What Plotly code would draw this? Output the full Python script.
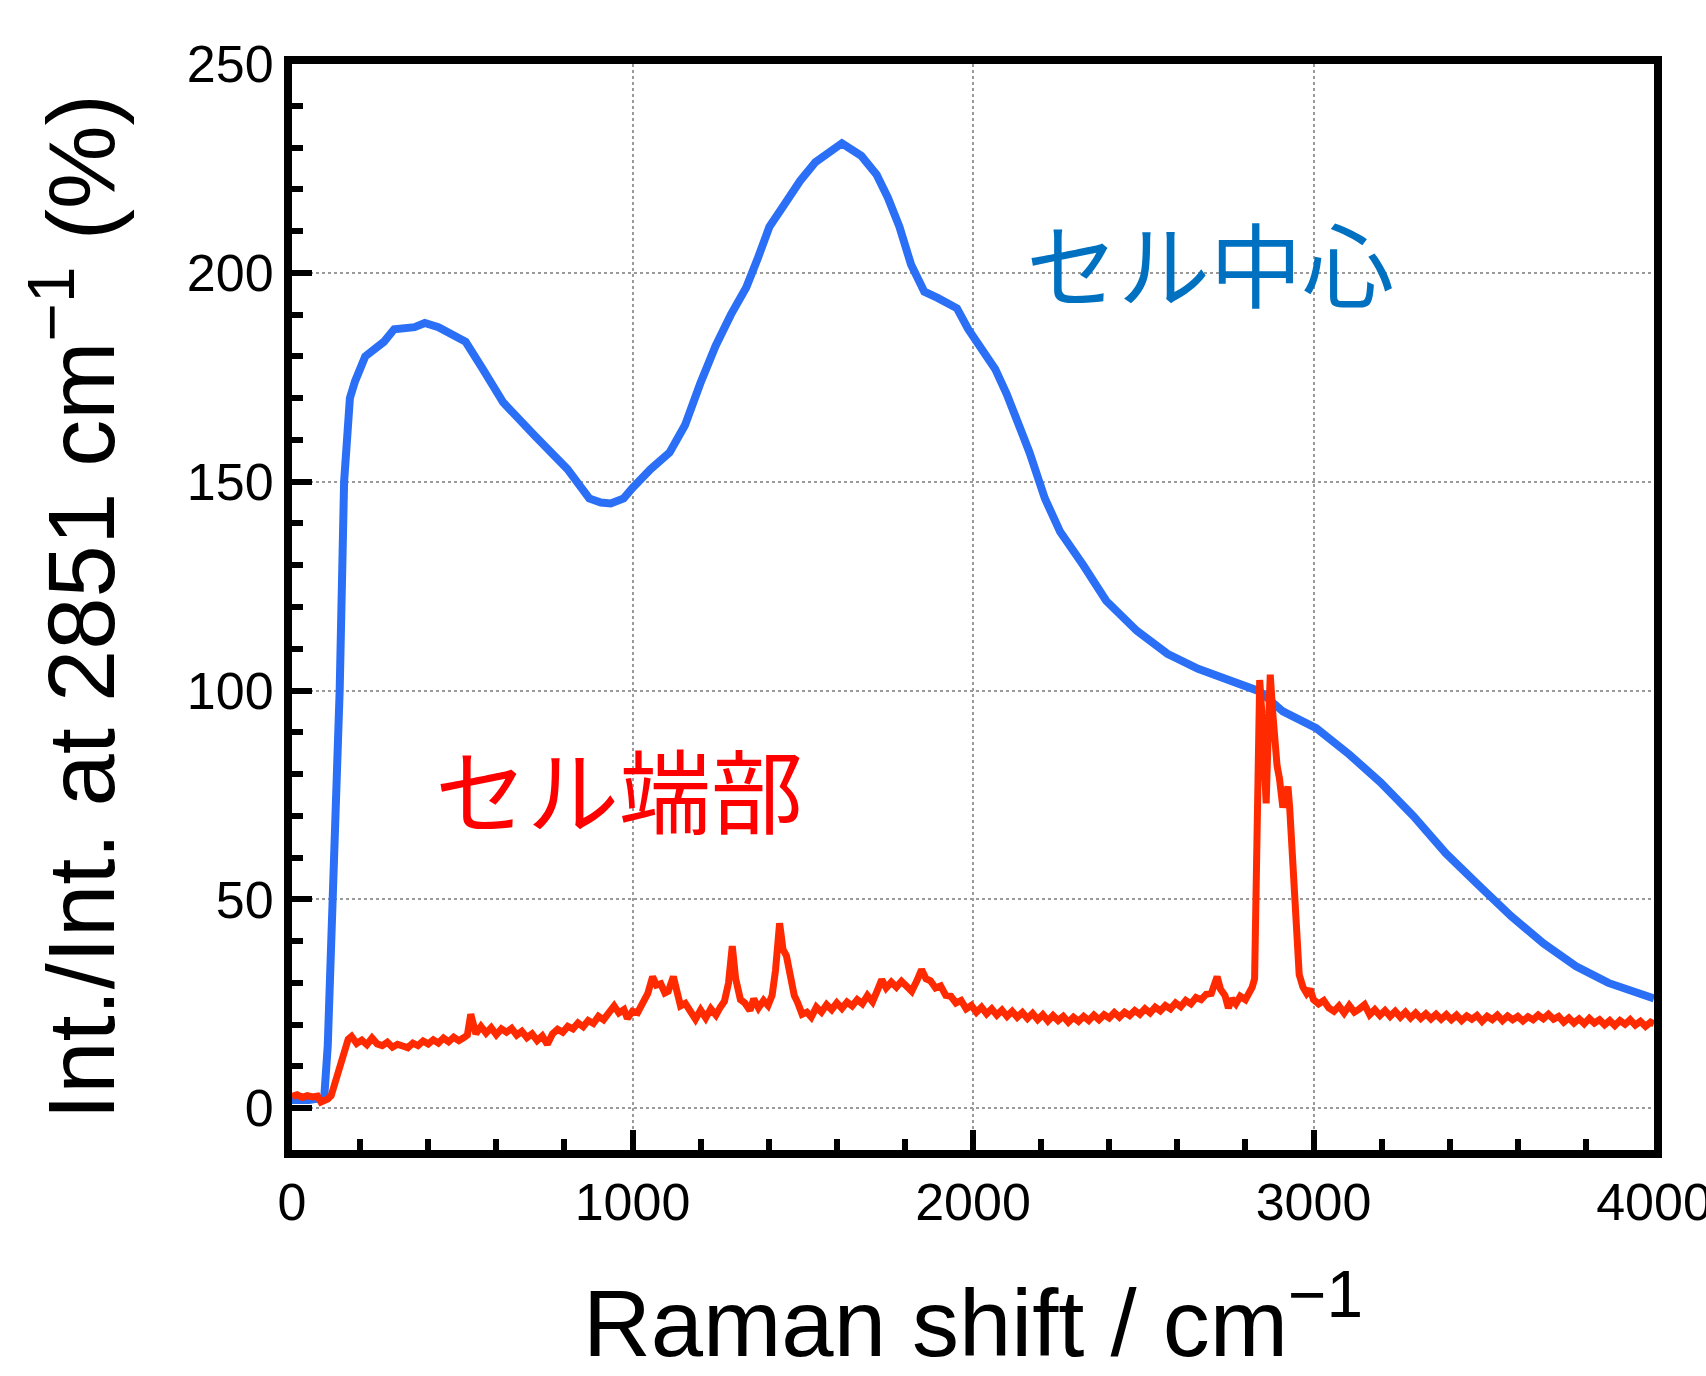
import plotly.graph_objects as go

# ---- data ----
center_x = [0, 50, 90, 95, 105, 120, 130, 140, 153, 160, 170, 185, 215, 270, 300, 360, 390, 430,
            510, 560, 620, 713, 809, 873, 907, 936, 974, 1000, 1053, 1109, 1154, 1199, 1244,
            1289, 1334, 1368, 1402, 1447, 1492, 1537, 1582, 1615, 1672, 1717, 1750, 1784, 1818,
            1857, 1896, 1953, 1986, 2031, 2065, 2099, 2133, 2166, 2211, 2256, 2324, 2391, 2481,
            2571, 2661, 2760, 2842, 2910, 3008, 3105, 3197, 3293, 3389, 3484, 3580, 3675, 3771,
            3866, 3978, 4000]
center_y = [2, 2, 2.5, 3, 15, 50, 75, 100, 150, 160, 170, 174, 180, 183.5, 186.5, 187, 188, 187,
            183.5, 177, 169, 161, 153, 146, 145, 144.8, 146, 148.5, 153, 157, 163.5, 173.5, 182.5,
            190, 196.5, 203.5, 211, 216.5, 222, 226.5, 229, 231, 228, 223.5, 218, 211, 202,
            195.5, 194, 191.5, 186.5, 181, 177, 171, 164.5, 157, 146, 138, 130, 121.5, 114.3,
            108.8, 105.2, 102.5, 99.8, 95, 91, 84.7, 78, 70, 61, 53.5, 46, 39.5, 34,
            30, 26.6, 26.3]

# (Raman shift, intensity) pairs for the cell-edge spectrum
edge_points = [
    (0, 2.8), (15, 3.2), (30, 2.6), (45, 3.0), (60, 2.7), (75, 2.9), (85, 1.5), (95, 1.8),
    (105, 2.2), (115, 3.0), (125, 5.5), (135, 8.0), (145, 10.5), (155, 13.0), (165, 16.5),
    (175, 17.2), (190, 15.5), (205, 16.3), (220, 15.2), (235, 16.8), (250, 15.4), (265, 15.0),
    (280, 15.8), (295, 14.6), (310, 15.3), (325, 14.9), (340, 14.5), (355, 15.6), (370, 15.0),
    (385, 16.1), (400, 15.4), (415, 16.4), (430, 15.6), (445, 16.8), (460, 15.9), (475, 17.0),
    (490, 16.2), (505, 16.9), (515, 17.5), (525, 22.5), (532, 19.5), (540, 17.8), (555, 19.6),
    (570, 18.0), (585, 19.3), (600, 17.6), (615, 19.0), (630, 18.2), (645, 19.1), (660, 17.5),
    (675, 18.4), (690, 16.9), (705, 17.8), (720, 16.2), (735, 17.3), (750, 15.3), (765, 17.8),
    (780, 18.9), (795, 18.2), (810, 19.6), (825, 19.0), (840, 20.4), (855, 19.5), (870, 21.0),
    (885, 20.3), (900, 22.0), (915, 21.2), (930, 23.0), (946, 24.5), (960, 22.8), (975, 23.6),
    (985, 21.5), (1000, 23.2), (1015, 22.9), (1030, 25.0), (1045, 27.5), (1059, 31.5),
    (1070, 29.5), (1083, 29.8), (1095, 27.6), (1105, 28.0), (1120, 31.5), (1132, 27.5),
    (1141, 24.5), (1155, 25.1), (1170, 22.8), (1185, 21.3), (1200, 23.5), (1215, 21.6),
    (1230, 23.8), (1245, 22.3), (1258, 24.2), (1270, 25.6), (1282, 30.0), (1293, 38.8),
    (1303, 31.0), (1317, 26.0), (1330, 25.2), (1345, 23.4), (1356, 26.2), (1370, 24.0),
    (1385, 25.8), (1398, 24.6), (1410, 27.0), (1420, 33.0), (1432, 44.3), (1442, 38.0),
    (1452, 36.5), (1465, 30.0), (1475, 27.0), (1485, 25.3), (1498, 22.5), (1512, 23.0),
    (1525, 21.8), (1540, 24.2), (1555, 23.0), (1570, 24.8), (1585, 23.6), (1600, 25.2),
    (1615, 23.9), (1630, 25.4), (1645, 24.5), (1660, 26.0), (1675, 25.0), (1690, 27.0),
    (1705, 25.5), (1718, 28.0), (1732, 30.8), (1745, 28.8), (1760, 30.2), (1775, 29.0),
    (1790, 30.4), (1805, 29.2), (1820, 28.0), (1835, 30.5), (1849, 33.2), (1862, 31.0),
    (1875, 30.5), (1890, 28.8), (1905, 29.3), (1920, 27.0), (1935, 26.8), (1950, 25.2),
    (1965, 25.8), (1980, 23.8), (1995, 24.6), (2010, 23.0), (2025, 24.2), (2040, 22.6),
    (2055, 23.8), (2070, 22.3), (2085, 23.5), (2100, 22.0), (2115, 23.2), (2130, 21.8),
    (2145, 22.9), (2160, 21.5), (2175, 22.7), (2190, 21.2), (2205, 22.4), (2220, 20.9),
    (2235, 22.2), (2250, 21.0), (2265, 22.0), (2280, 20.6), (2295, 21.8), (2310, 20.8),
    (2325, 22.0), (2340, 21.0), (2355, 22.3), (2370, 21.2), (2385, 22.4), (2400, 21.6),
    (2415, 22.9), (2430, 21.8), (2445, 23.0), (2460, 22.2), (2475, 23.4), (2490, 22.5),
    (2505, 23.8), (2520, 22.8), (2535, 24.2), (2550, 23.3), (2565, 24.6), (2580, 23.8),
    (2595, 25.2), (2610, 24.3), (2625, 25.8), (2640, 25.0), (2655, 26.5), (2670, 26.0),
    (2685, 27.3), (2700, 27.5), (2710, 29.5), (2717, 31.5), (2727, 28.5), (2740, 27.0),
    (2750, 24.0), (2760, 26.2), (2772, 25.0), (2785, 26.8), (2800, 26.0), (2812, 27.8),
    (2820, 29.0), (2827, 31.0), (2832, 50.0), (2837, 80.0), (2842, 102.5), (2848, 95.0),
    (2855, 80.0), (2861, 73.0), (2867, 90.0), (2873, 103.8), (2880, 95.0), (2886, 86.3),
    (2893, 82.0), (2900, 79.0), (2905, 76.0), (2910, 72.0), (2918, 75.0), (2925, 77.0),
    (2930, 72.0), (2935, 65.0), (2940, 54.5), (2945, 45.0), (2949, 38.6), (2958, 32.0),
    (2969, 29.0), (2980, 27.5), (2990, 28.5), (3000, 26.0), (3015, 25.0), (3030, 25.8),
    (3045, 24.0), (3060, 23.2), (3075, 24.5), (3090, 22.8), (3105, 24.6), (3120, 23.0),
    (3135, 23.8), (3150, 24.8), (3165, 22.4), (3180, 23.6), (3195, 22.2), (3210, 23.4),
    (3225, 22.0), (3240, 23.2), (3255, 21.8), (3270, 23.0), (3285, 21.6), (3300, 22.8),
    (3315, 21.5), (3330, 22.6), (3345, 21.4), (3360, 22.5), (3375, 21.3), (3390, 22.4),
    (3405, 21.2), (3420, 22.3), (3435, 21.0), (3450, 22.1), (3465, 21.3), (3480, 22.2),
    (3495, 20.8), (3510, 22.0), (3525, 21.2), (3540, 22.3), (3555, 21.0), (3570, 22.1),
    (3585, 21.2), (3600, 22.0), (3615, 20.9), (3630, 21.9), (3645, 21.2), (3660, 22.3),
    (3675, 21.4), (3690, 22.5), (3705, 21.3), (3720, 22.0), (3735, 20.6), (3750, 21.6),
    (3765, 20.4), (3780, 21.4), (3795, 20.2), (3810, 21.5), (3825, 20.4), (3840, 21.2),
    (3855, 20.0), (3870, 21.0), (3885, 19.8), (3900, 21.0), (3915, 20.1), (3930, 21.2),
    (3945, 19.9), (3960, 20.8), (3975, 19.6), (3990, 20.6), (4000, 20.2),
]
edge_x = [p[0] for p in edge_points]
edge_y = [p[1] for p in edge_points]

x_ticks = [0, 1000, 2000, 3000, 4000]
y_ticks = [0, 50, 100, 150, 200, 250]

x_title = "Raman shift / cm<sup>−1</sup>"
y_title = "Int./Int. at 2851 cm<sup>−1</sup> (%)"
label_center = "セル中心"
label_edge = "セル端部"

fig = go.Figure()
fig.add_trace(go.Scatter(x=center_x, y=center_y, mode="lines",
                         line=dict(color="#2B6FF6", width=8), showlegend=False))
fig.add_trace(go.Scatter(x=edge_x, y=edge_y, mode="lines",
                         line=dict(color="#FF2A00", width=7), showlegend=False))

axis_common = dict(
    showline=True, linecolor="black", linewidth=8, mirror=True,
    ticks="inside", tickwidth=6, tickcolor="black", ticklen=20,
    showgrid=True, gridcolor="#9a9a9a", gridwidth=2, griddash="dot",
    zeroline=False, ticklabeloverflow="allow", automargin=False,
    tickfont=dict(family="Liberation Sans, Arial, sans-serif", size=52, color="black"),
)

fig.update_xaxes(
    range=[0, 4000], tickvals=x_ticks, ticktext=[str(v) for v in x_ticks],
    minor=dict(ticks="inside", dtick=200, ticklen=11, tickwidth=6, tickcolor="black", showgrid=False),
    title=dict(text=x_title, font=dict(family="Liberation Sans, Arial, sans-serif", size=94, color="black"),
               standoff=78),
    **axis_common,
)
fig.update_yaxes(
    range=[-10, 250], tickvals=y_ticks, ticktext=[str(v) for v in y_ticks],
    minor=dict(ticks="inside", dtick=10, tick0=0, ticklen=11, tickwidth=6, tickcolor="black", showgrid=False),
    title=dict(text=y_title, font=dict(family="Liberation Sans, Arial, sans-serif", size=94, color="black"),
               standoff=44),
    **axis_common,
)

fig.add_annotation(x=2696, y=203, xref="x", yref="y", text=label_center, showarrow=False,
                   font=dict(family="Noto Sans CJK JP", size=92, color="#0070C0"),
                   xanchor="center", yanchor="middle")
fig.add_annotation(x=960, y=77, xref="x", yref="y", text=label_edge, showarrow=False,
                   font=dict(family="Noto Sans CJK JP", size=92, color="#FF0000"),
                   xanchor="center", yanchor="middle")

fig.update_layout(
    width=1706, height=1376,
    margin=dict(l=292, r=52, t=64, b=226),
    plot_bgcolor="white", paper_bgcolor="white",
)

fig.write_html("out.html")
